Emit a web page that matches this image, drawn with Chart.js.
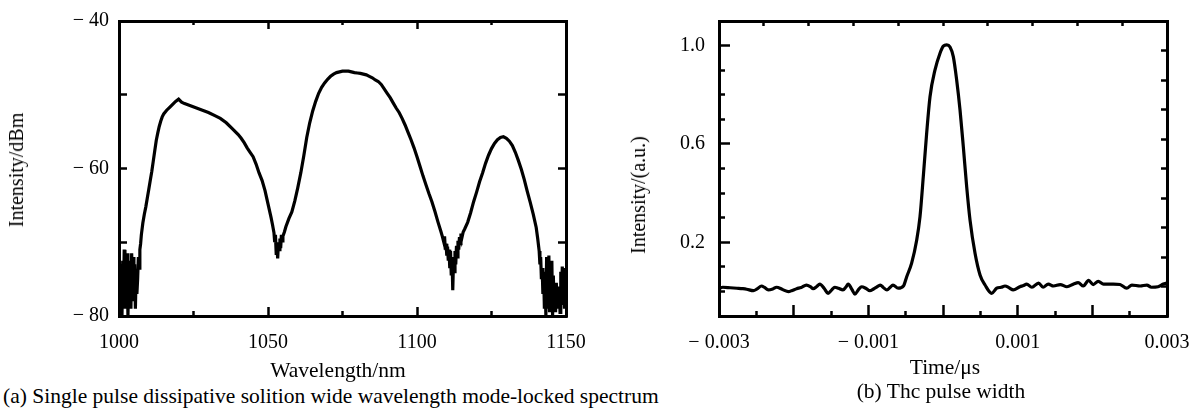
<!DOCTYPE html>
<html>
<head>
<meta charset="utf-8">
<script src="https://cdn.jsdelivr.net/npm/chart.js@4.4.1/dist/chart.umd.min.js"></script>
<style>
  html, body { margin: 0; padding: 0; background: #fff; }
  body { width: 1195px; height: 416px; position: relative; overflow: hidden;
         font-family: "Liberation Serif", "Times New Roman", serif; color: #000; }
  .box { position: absolute; top: 0; }
  .txt { position: absolute; font-size: 21.5px; line-height: 1; white-space: nowrap; transform: translate(-50%, -50%); }
  .rot { font-size: 20px; transform: translate(-50%, -50%) rotate(-90deg); }
</style>
</head>
<body>
<div class="box" style="left:0"><canvas id="spec" width="600" height="360"></canvas></div>
<div class="box" style="left:590px"><canvas id="pulse" width="605" height="360"></canvas></div>

<div class="txt rot" style="left:16px;top:170px">Intensity/dBm</div>
<div class="txt" style="left:338px;top:371px">Wavelength/nm</div>
<div class="txt" style="left:3px;top:397px;transform:translate(0,-50%)">(a) Single pulse dissipative solition wide wavelength mode-locked spectrum</div>

<div class="txt rot" style="left:638px;top:195px">Intensity/(a.u.)</div>
<div class="txt" style="left:945px;top:368px">Time/μs</div>
<div class="txt" style="left:941px;top:392px">(b) Thc pulse width</div>

<script>
// (a) spectrum, wavelength in nm, intensity in dBm
const specWl = [
  1000, 1000.25, 1000.5, 1000.75, 1001, 1001.25, 1001.5, 1001.75, 1002, 1002.25, 1002.5, 1002.75,
  1003, 1003.25, 1003.5, 1003.75, 1004, 1004.25, 1004.5, 1004.75, 1005, 1005.25, 1005.5, 1005.75,
  1006, 1006.25, 1006.5, 1006.75, 1007, 1007.25, 1007.5, 1008, 1008.5, 1009, 1009.5, 1010, 1010.5,
  1011, 1011.5, 1012, 1012.5, 1013, 1013.5, 1014, 1014.5, 1015, 1016, 1017, 1018, 1019, 1020, 1021,
  1022, 1024, 1026, 1028, 1030, 1032, 1034, 1036, 1038, 1040, 1041, 1042, 1043, 1044, 1045, 1046,
  1047, 1048, 1049, 1050, 1051, 1051.5, 1052, 1052.25, 1052.5, 1052.75, 1053, 1053.25, 1053.5,
  1053.75, 1054, 1054.25, 1054.5, 1054.75, 1055, 1055.5, 1056, 1057, 1058, 1059, 1060, 1061, 1062,
  1063, 1064, 1065, 1066, 1067, 1068, 1069, 1070, 1071, 1072, 1073, 1074, 1075, 1076, 1077, 1078,
  1079, 1080, 1081, 1082, 1083, 1084, 1085, 1086, 1087, 1088, 1089, 1090, 1091, 1092, 1093, 1094,
  1095, 1096, 1097, 1098, 1099, 1100, 1101, 1102, 1103, 1104, 1105, 1106, 1107, 1108, 1108.5, 1109,
  1109.25, 1109.5, 1109.75, 1110, 1110.25, 1110.5, 1110.75, 1111, 1111.25, 1111.5, 1111.75, 1112,
  1112.25, 1112.5, 1112.75, 1113, 1113.25, 1113.5, 1113.75, 1114, 1114.25, 1114.5, 1114.75, 1115,
  1115.5, 1116, 1117, 1118, 1119, 1120, 1121, 1122, 1123, 1124, 1125, 1126, 1127, 1128, 1129, 1130,
  1131, 1132, 1133, 1134, 1135, 1136, 1137, 1138, 1139, 1140, 1140.5, 1141, 1141.25, 1141.5, 1141.75,
  1142, 1142.25, 1142.5, 1142.75, 1143, 1143.25, 1143.5, 1143.75, 1144, 1144.25, 1144.5, 1144.75,
  1145, 1145.25, 1145.5, 1145.75, 1146, 1146.25, 1146.5, 1146.75, 1147, 1147.25, 1147.5, 1147.75,
  1148, 1148.25, 1148.5, 1148.75, 1149, 1149.25, 1149.5, 1149.75, 1150
];
const specDbm = [
  -80, -74, -79, -73, -80, -72.5, -78, -71, -79, -74, -77, -71.5,
  -80, -75, -78, -72.5, -79, -71.5, -76, -72, -78, -73, -79, -74,
  -77, -75, -72, -73.5, -71, -70.2, -69, -67.4, -66.2, -65.2, -64, -62.8, -61.6,
  -60.4, -59, -57.6, -56.2, -55.2, -54.3, -53.6, -53, -52.6, -52.1, -51.7, -51.3, -50.9, -50.6, -51,
  -51.2, -51.5, -51.8, -52.1, -52.4, -52.8, -53.2, -53.8, -54.6, -55.4, -55.9, -56.5, -57.2, -57.8, -58.4, -59.4,
  -60.6, -61.6, -63, -64.8, -66.6, -67.6, -68.7, -70, -69, -71.5, -70.5, -72.2, -70,
  -71, -69.5, -70.8, -69, -69.8, -69.2, -68.6, -67.9, -66.8, -65.9, -64.4, -62.6, -60.6, -58.3,
  -55.8, -53.8, -52.2, -50.9, -49.8, -49, -48.4, -47.9, -47.5, -47.2, -47, -46.9, -46.8, -46.8, -46.8, -46.9,
  -47, -47.05, -47.1, -47.2, -47.3, -47.5, -47.7, -48, -48.2, -48.6, -49.2, -49.8, -50.4, -51.1, -51.8, -52.4,
  -53.2, -54.1, -55.1, -56.1, -57.2, -58.4, -59.7, -61, -62.2, -63.4, -64.5, -65.8, -67.2, -68.5, -69.2, -70,
  -69.2, -71, -70.2, -71.8, -70.6, -72.5, -71, -73.5, -71.2, -74.5, -72, -76.5,
  -72.5, -74, -71.2, -73, -70.5, -72, -69.8, -71, -69.3, -70.2, -68.8, -69.5,
  -68.6, -68.2, -67.3, -66, -64.5, -63.2, -61.8, -60.6, -59.3, -58.2, -57.3, -56.6, -56.1, -55.8, -55.7, -55.9,
  -56.3, -56.9, -57.8, -58.9, -60.1, -61.5, -63.1, -64.6, -66.2, -68, -69.5, -71.2, -73, -72, -75,
  -73.5, -77, -74, -79, -75, -80, -72, -79, -76, -71.8, -79.5, -75,
  -78, -72.5, -80, -74.5, -78.5, -76, -79.5, -75.5, -78, -76.5, -79, -76,
  -79.5, -74, -78.5, -73.3, -77, -74.5, -79, -73.5, -78
];

// (b) pulse, time in µs, normalised intensity
const pulseT = [
  -0.003, -0.00295, -0.00285, -0.00276, -0.00268, -0.00263, -0.00254, -0.00249, -0.00243, -0.00239,
  -0.00234, -0.00228, -0.00223, -0.00215, -0.00207, -0.00202, -0.00196, -0.0019, -0.00183, -0.00177,
  -0.00174, -0.00169, -0.00165, -0.00159, -0.00154, -0.00149, -0.00145, -0.0014, -0.00134, -0.0013,
  -0.00127, -0.00122, -0.00118, -0.00113, -0.00109, -0.00103, -0.00098, -0.00093, -0.00089, -0.00084,
  -0.0008, -0.00075, -0.00071, -0.00067, -0.0006, -0.00053, -0.000486, -0.00042, -0.000352, -0.000308,
  -0.000264, -0.000219, -0.000174, -0.000107, -0.00004, 0.000004, 0.00005, 0.000094, 0.000138, 0.000183,
  0.000228, 0.000272, 0.000317, 0.000362, 0.000429, 0.000496, 0.000563, 0.000652, 0.000719, 0.00078,
  0.00083, 0.00089, 0.00094, 0.00103, 0.00108, 0.00112, 0.00119, 0.00128, 0.00134, 0.00141,
  0.00148, 0.00157, 0.00166, 0.00175, 0.00181, 0.00188, 0.00195, 0.00201, 0.00208, 0.00215,
  0.00228, 0.00237, 0.00246, 0.00253, 0.00264, 0.00273, 0.00279, 0.00288, 0.00295, 0.003
];
const pulseV = [
  0.012, 0.017, 0.015, 0.013, 0.011, 0.009, 0.003, 0.01, 0.022, 0.016,
  0.006, 0.01, 0.017, 0.008, -0.001, 0.004, 0.011, 0.016, 0.026, 0.018,
  0.011, 0.02, 0.03, 0.012, -0.008, 0.006, 0.017, 0.013, 0.006, 0.018,
  0.03, 0.008, -0.011, 0.008, 0.019, 0.012, 0.003, 0.01, 0.017, 0.026,
  0.016, 0.006, 0.016, 0.026, 0.013, 0.022, 0.06, 0.115, 0.209, 0.304,
  0.467, 0.643, 0.792, 0.901, 0.969, 0.998, 1.003, 0.994, 0.955, 0.86,
  0.738, 0.589, 0.426, 0.29, 0.155, 0.067, 0.026, -0.008, 0.013, 0.017,
  0.022, 0.014, 0.006, 0.019, 0.024, 0.03, 0.017, 0.034, 0.017, 0.03,
  0.022, 0.028, 0.019, 0.03, 0.036, 0.022, 0.045, 0.028, 0.041, 0.03,
  0.03, 0.028, 0.013, 0.026, 0.022, 0.026, 0.017, 0.019, 0.03, 0.034
];

// tick positions
const specXTicks = [1000, 1050, 1100, 1150];
const specXMinor = [1025, 1075, 1125];
const specYTicks = [-80, -70, -60, -50, -40];
const specYLabels = [-80, -60, -40];
const pulseXTicks = [-0.003, -0.002, -0.001, 0, 0.001, 0.002, 0.003];
const pulseXLabels = [-0.003, -0.001, 0.001, 0.003];
const pulseXMinor = [-0.0025, -0.0015, -0.0005, 0.0005, 0.0015, 0.0025];
const pulseXTop = [-0.0024, -0.0018, -0.0012, -0.0006, 0, 0.0006, 0.0012, 0.0018, 0.0024];
const pulseYTicks = [0.2, 0.6, 1.0];
const pulseYMinor = [0, 0.1, 0.3, 0.4, 0.5, 0.7, 0.8, 0.9];
const pulseYRight = [0.02, 0.14, 0.26, 0.38, 0.5, 0.62, 0.74, 0.86, 0.98];

Chart.defaults.font.family = '"Liberation Serif", "Times New Roman", serif';
Chart.defaults.font.size = 20;
Chart.defaults.color = "#000";

const minus = (v, digits) => (v < 0 ? "\u2212 " : "") + Math.abs(v).toFixed(digits);
const has = (list, v) => list.some((t) => Math.abs(t - v) < 1e-9);

// one axis: fixed tick list, ticks drawn inward, optional labels
function axis(position, min, max, values, len, opts = {}) {
  const horizontal = position === "top" || position === "bottom";
  return {
    type: "linear",
    position,
    min,
    max,
    weight: opts.size ? 1 : 0,
    afterBuildTicks(scale) {
      scale.ticks = values.map((v) => ({ value: v }));
    },
    afterFit(scale) {
      if (horizontal) scale.height = opts.size || 0;
      else scale.width = opts.size || 0;
      // edge labels may overhang the frame; keep the plot area where it is
      scale.paddingLeft = scale.paddingRight = 0;
      scale.paddingTop = scale.paddingBottom = 0;
    },
    ticks: {
      autoSkip: false,
      maxRotation: 0,
      padding: opts.padding || 0,
      callback: opts.label || (() => ""),
    },
    grid: {
      drawOnChartArea: false,
      drawTicks: true,
      tickLength: -len,
      tickWidth: 2.5,
      tickColor: "#000",
    },
    border: { display: !!opts.border, color: "#000", width: 3 },
  };
}

function lineChart(id, xs, ys, scales, padding, smooth) {
  new Chart(document.getElementById(id), {
    type: "line",
    data: {
      datasets: [{
        data: xs.map((x, i) => ({ x, y: ys[i] })),
        borderColor: "#000",
        borderWidth: 3.2,
        pointRadius: 0,
        fill: false,
        tension: smooth ? 0.3 : 0,
        cubicInterpolationMode: smooth ? "monotone" : "default",
      }],
    },
    options: {
      responsive: false,
      animation: false,
      layout: { padding },
      plugins: { legend: { display: false }, tooltip: { enabled: false } },
      scales,
    },
  });
}

lineChart("spec", specWl, specDbm, {
  x: axis("bottom", 1000, 1150, specXTicks, 9, {
    size: 44, padding: 24, border: true, label: (v) => String(v),
  }),
  xMinor: axis("bottom", 1000, 1150, specXMinor, 5),
  xTop: axis("top", 1000, 1150, [1050, 1100], 8, { border: true }),
  xTopMinor: axis("top", 1000, 1150, specXMinor, 4),
  y: axis("left", -80, -40, specYTicks, 8, {
    size: 119, padding: 18, border: true,
    label: (v) => (has(specYLabels, v) ? minus(v, 0) : ""),
  }),
  yRight: axis("right", -80, -40, [-70, -60, -50], 8, { border: true }),
}, { top: 21, right: 34, left: 0, bottom: 0 }, false);

lineChart("pulse", pulseT, pulseV, {
  x: axis("bottom", -0.003, 0.003, pulseXTicks, 11, {
    size: 44, padding: 26, border: true,
    label: (v) => (has(pulseXLabels, v) ? minus(v, 3) : ""),
  }),
  xMinor: axis("bottom", -0.003, 0.003, pulseXMinor, 5),
  xTop: axis("top", -0.003, 0.003, pulseXTop, 5, { border: true }),
  y: axis("left", -0.1, 1.1, pulseYTicks, 11, {
    size: 129, padding: 25, border: true, label: (v) => v.toFixed(1),
  }),
  yMinor: axis("left", -0.1, 1.1, pulseYMinor, 6),
  yRight: axis("right", -0.1, 1.1, pulseYRight, 6, { border: true }),
}, { top: 21, right: 28, left: 0, bottom: 0 }, true);
</script>
</body>
</html>
